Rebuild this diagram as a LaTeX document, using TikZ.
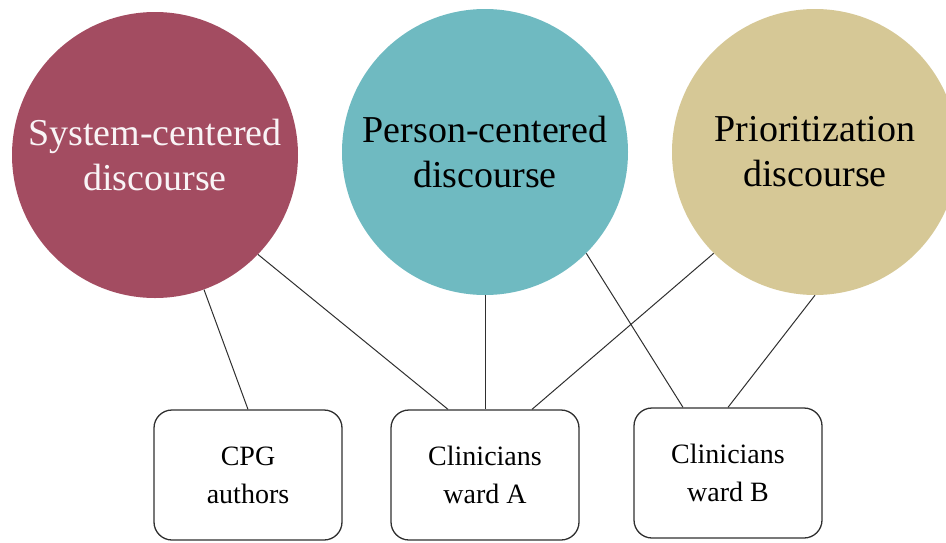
\documentclass[tikz,border=0pt]{standalone}
\usepackage{fontspec}
\setmainfont{Liberation Serif}
\usetikzlibrary{positioning}
\definecolor{sysred}{HTML}{A34C61}
\definecolor{perteal}{HTML}{6FBAC1}
\definecolor{priotan}{HTML}{D6C896}
\definecolor{neutral}{HTML}{2F2F2F}
\tikzset{
  discnode/.style={circle, inner sep=0pt, minimum size=286pt, align=center,
    font=\fontsize{38}{45}\selectfont},
  groupbox/.style={draw=neutral, rounded corners=18pt, line width=1.3pt,
    minimum width=188pt, minimum height=130pt, align=center,
    font=\fontsize{28}{38}\selectfont},
  link/.style={draw=neutral, line width=1pt}
}
\begin{document}
\begin{tikzpicture}[x=1pt, y=-1pt]
    \useasboundingbox (0,0) rectangle (946,542);
    \foreach \nm/\x/\y/\col/\tc/\txt in {
      sys/155/155/sysred/white!94!sysred/{System-centered\\discourse},
      per/485/152/perteal/black/{Person-centered\\discourse},
      pri/815/152/priotan/black/{Prioritization\\discourse}} {
      \node[discnode, fill=\col, text=\tc] (\nm) at (\x,\y) {\txt};
    }
    \foreach \nm/\x/\y/\txt in {
      cpg/248/475/{CPG\\authors},
      wa/485/475/{Clinicians\\ward A},
      wb/728/473/{Clinicians\\ward B}} {
      \node[groupbox] (\nm) at (\x,\y) {\txt};
    }
    \draw[link] (sys.-70) -- (cpg.north);
    \draw[link] (sys.-44) -- ([xshift=-37pt]wa.north);
    \draw[link] (per.south) -- (wa.north);
    \draw[link] (pri.-135) -- ([xshift=47pt]wa.north);
    \draw[link] (per.-45) -- ([xshift=-45pt]wb.north);
    \draw[link] (pri.south) -- (wb.north);
  \end{tikzpicture}
\end{document}
